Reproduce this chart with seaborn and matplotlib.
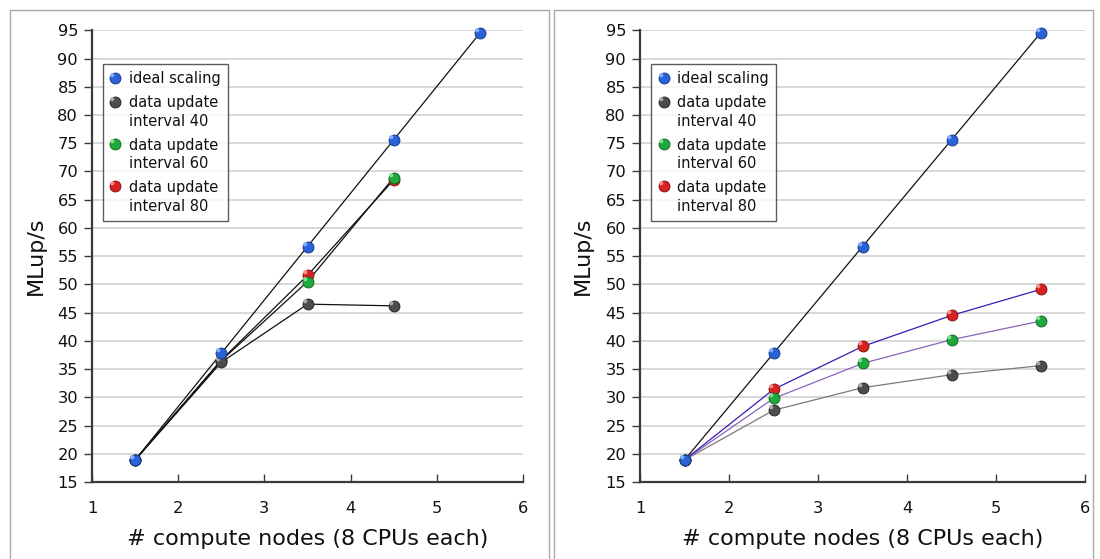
import matplotlib
matplotlib.use("Agg")
import numpy as np
import pandas as pd
import matplotlib.pyplot as plt
from matplotlib.path import Path
from matplotlib.lines import Line2D
from matplotlib.patches import Rectangle
from matplotlib.transforms import Affine2D
from matplotlib.legend_handler import HandlerTuple
import seaborn as sns

# ---- data -------------------------------------------------------------
nodes = [1.5, 2.5, 3.5, 4.5, 5.5]
ideal = [18.9, 37.8, 56.7, 75.6, 94.5]

left_int40 = [18.9, 36.2, 46.5, 46.2]
left_int60 = [18.9, 36.5, 50.5, 68.9]
left_int80 = [18.9, 36.6, 51.6, 68.5]

right_int40 = [18.9, 27.7, 31.7, 34.0, 35.6]
right_int60 = [18.9, 29.8, 36.0, 40.2, 43.5]
right_int80 = [18.9, 31.4, 39.0, 44.5, 49.1]

series_names = ["ideal scaling", "data update\ninterval 40",
                "data update\ninterval 60", "data update\ninterval 80"]
x_ticks = [1, 2, 3, 4, 5, 6]
y_ticks = list(range(15, 100, 5))
x_label = "# compute nodes (8 CPUs each)"
y_label = "MLup/s"

# ball colours: (base, rim, light)
ball_colors = {
    series_names[0]: ("#2a62d8", "#153a8c", "#8fb6ff"),
    series_names[1]: ("#4d4d4d", "#262626", "#b4b4b4"),
    series_names[2]: ("#1fa83c", "#0e6a22", "#8ee6a0"),
    series_names[3]: ("#d62222", "#8a1010", "#ff9a9a"),
}

sns.set_style("white")
plt.rcParams["font.family"] = ["DejaVu Sans"]
plt.rcParams["text.color"] = "#111111"
plt.rcParams["axes.labelcolor"] = "#111111"
plt.rcParams["xtick.labelcolor"] = "#111111"
plt.rcParams["ytick.labelcolor"] = "#111111"

W, H = 1100, 559
fig = plt.figure(figsize=(W / 100, H / 100), dpi=100)

# highlight spot placed on top of each ball
hl_marker = Path.circle((-0.28, 0.28), 0.18)
MS = 7.8
LEG_FS = 10.5
LEG_LINESPACING = 1.3


class BallHandler(HandlerTuple):
    """Tuple handler that lifts the ball onto the first line of a label."""

    def __init__(self, dy=0.0, **kw):
        super().__init__(ndivide=1, pad=0, **kw)
        self.dy = dy

    def create_artists(self, legend, orig_handle, xdescent, ydescent,
                       width, height, fontsize, trans):
        shifted = Affine2D().translate(0, self.dy) + trans
        return super().create_artists(legend, orig_handle, xdescent,
                                      ydescent, width, height, fontsize,
                                      shifted)


def long_frame(pairs):
    rows = []
    for name, vals in pairs:
        for xv, yv in zip(nodes, vals):
            rows.append({"nodes": xv, "mlups": yv, "series": name})
    return pd.DataFrame(rows)


def draw_balls(ax, xs, ys, name, z):
    base, rim, light = ball_colors[name]
    ax.plot(xs, ys, ls="none", marker="o", ms=MS, mfc=base, mec=rim,
            mew=0.7, zorder=z, clip_on=False)
    ax.plot(xs, ys, ls="none", marker=hl_marker, ms=MS, mfc=light,
            mec="none", zorder=z + 0.2, clip_on=False, alpha=0.9)


def legend_handle(name):
    base, rim, light = ball_colors[name]
    h1 = Line2D([], [], ls="none", marker="o", ms=MS, mfc=base, mec=rim, mew=0.7)
    h2 = Line2D([], [], ls="none", marker=hl_marker, ms=MS, mfc=light,
                mec="none", alpha=0.9)
    return (h1, h2)


def panel(rect, pairs, line_colors):
    ax = fig.add_axes(rect)
    df = long_frame(pairs)
    sns.lineplot(data=df, x="nodes", y="mlups", hue="series",
                 palette=line_colors, estimator=None, sort=False,
                 legend=False, linewidth=0.9, ax=ax, zorder=3)
    order = [3, 2, 1, 0]
    for k, i in enumerate(order):
        name, vals = pairs[i]
        draw_balls(ax, nodes[:len(vals)], vals, name, 5 + k)

    ax.set_xlim(1, 6)
    ax.set_ylim(15, 95)
    ax.set_xticks(x_ticks)
    ax.set_yticks(y_ticks)
    ax.yaxis.grid(True, color="#d6d6d6", lw=1.3)
    ax.xaxis.grid(False)
    ax.set_axisbelow(True)
    for s in ("top", "right"):
        ax.spines[s].set_visible(False)
    for s in ("left", "bottom"):
        ax.spines[s].set_color("#3a3a3a")
        ax.spines[s].set_linewidth(1.6)
    ax.tick_params(axis="y", direction="out", length=6, width=1,
                   color="#3a3a3a", labelsize=11.7, pad=4, left=True)
    ax.tick_params(axis="x", direction="in", length=6, width=1,
                   color="#3a3a3a", labelsize=11.7, pad=14, bottom=True)
    ax.set_xlabel(x_label, fontsize=16, va="top")
    ax.set_ylabel(y_label, fontsize=16)
    ax.xaxis.set_label_coords(0.5, -0.104)
    ax.yaxis.set_label_coords(-0.107, 0.5)

    handles = [legend_handle(n) for n in series_names]
    dy_multi = LEG_FS * LEG_LINESPACING * 0.6
    hmap = {}
    for h, n in zip(handles, series_names):
        hmap[h] = BallHandler(dy=dy_multi if "\n" in n else 0.0)
    leg = ax.legend(handles, series_names, loc="upper left",
                    bbox_to_anchor=(0.0255, 0.925), borderaxespad=0,
                    fontsize=LEG_FS, frameon=True, fancybox=False,
                    handler_map=hmap,
                    handlelength=0.7, handletextpad=0.55, labelspacing=0.6,
                    borderpad=0.5)
    for t in leg.get_texts():
        t.set_linespacing(LEG_LINESPACING)
    leg.get_frame().set_edgecolor("#333333")
    leg.get_frame().set_linewidth(1.0)
    leg.set_zorder(20)
    return ax


ax_h = (482 - 30.3) / H
ax_b = 1 - 482 / H

left_pairs = [(series_names[0], ideal), (series_names[1], left_int40),
              (series_names[2], left_int60), (series_names[3], left_int80)]
panel([92 / W, ax_b, (523 - 92) / W, ax_h], left_pairs,
      {n: "#111111" for n in series_names})

right_pairs = [(series_names[0], ideal), (series_names[1], right_int40),
               (series_names[2], right_int60), (series_names[3], right_int80)]
panel([640 / W, ax_b, (1085 - 640) / W, ax_h], right_pairs,
      {series_names[0]: "#111111", series_names[1]: "#7a7a7a",
       series_names[2]: "#8a64bc", series_names[3]: "#3a1cb4"})

# panel frames
for x0, x1 in [(9.5, 549.5), (553.5, 1092.5)]:
    fig.add_artist(Rectangle((x0 / W, -0.05), (x1 - x0) / W,
                             1.05 - 9.5 / H, transform=fig.transFigure,
                             fill=False, edgecolor="#a8a8a8", lw=1.0))

fig.savefig("out.png", dpi=100)
